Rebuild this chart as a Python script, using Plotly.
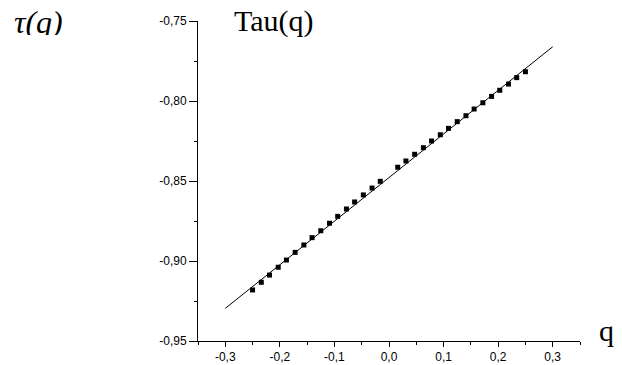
import plotly.graph_objects as go

# ---- data ----
q_vals = [-0.25, -0.234, -0.219, -0.203, -0.188, -0.172, -0.156, -0.141,
          -0.125, -0.109, -0.094, -0.078, -0.063, -0.047, -0.031, -0.016,
          0.0,
          0.016, 0.031, 0.047, 0.063, 0.078, 0.094, 0.109, 0.125,
          0.141, 0.156, 0.172, 0.188, 0.203, 0.219, 0.234, 0.25]
tau_vals = [-0.9181, -0.9133, -0.9088, -0.9039, -0.8994, -0.8946, -0.8900, -0.8854,
            -0.8811, -0.8764, -0.8721, -0.8675, -0.8631, -0.8587, -0.8544, -0.8502,
            None,
            -0.8414, -0.8375, -0.8333, -0.8292, -0.8250, -0.8211, -0.8171, -0.8129,
            -0.8092, -0.8050, -0.8011, -0.7971, -0.7933, -0.7894, -0.7854, -0.7817]
fit_q = [-0.3, 0.3]
fit_tau = [-0.9296, -0.7661]

x_tickvals = [-0.3, -0.2, -0.1, 0.0, 0.1, 0.2, 0.3]
x_ticktext = ["-0,3", "-0,2", "-0,1", "0,0", "0,1", "0,2", "0,3"]
x_minor = [-0.35, -0.25, -0.15, -0.05, 0.05, 0.15, 0.25, 0.35]
y_tickvals = [-0.95, -0.90, -0.85, -0.80, -0.75]
y_ticktext = ["-0,95", "-0,90", "-0,85", "-0,80", "-0,75"]
y_minor = [-0.925, -0.875, -0.825, -0.775]

fig = go.Figure()
fig.add_trace(go.Scatter(x=fit_q, y=fit_tau, mode="lines",
                         line=dict(color="black", width=1), showlegend=False))
fig.add_trace(go.Scatter(x=q_vals, y=tau_vals, mode="markers",
                         marker=dict(symbol="square", size=5, color="black"),
                         showlegend=False))

tick_font = dict(family="Liberation Sans, Arial, sans-serif", size=12, color="black")
fig.update_xaxes(range=[-0.35, 0.35], showline=True, linecolor="black", linewidth=1,
                 showgrid=False, zeroline=False, ticks="outside", ticklen=5,
                 tickcolor="black", tickmode="array", tickvals=x_tickvals,
                 ticktext=x_ticktext, tickfont=tick_font, automargin=False,
                 minor=dict(tickvals=x_minor, ticks="outside", ticklen=3,
                            tickcolor="black", showgrid=False))
fig.update_yaxes(range=[-0.95, -0.75], showline=True, linecolor="black", linewidth=1,
                 showgrid=False, zeroline=False, ticks="outside", ticklen=8,
                 tickcolor="black", tickmode="array", tickvals=y_tickvals,
                 ticktext=y_ticktext, tickfont=tick_font, automargin=False,
                 minor=dict(tickvals=y_minor, ticks="outside", ticklen=3,
                            tickcolor="black", showgrid=False))

serif = "Liberation Serif, Times New Roman, serif"
fig.add_annotation(text="Tau(q)", xref="paper", yref="paper",
                   x=(232 - 198) / 382, y=(341 - 21) / 320,
                   xanchor="left", yanchor="middle", showarrow=False,
                   font=dict(family=serif, size=30, color="black"))
fig.add_annotation(text="q", xref="paper", yref="paper",
                   x=(606 - 198) / 382, y=(341 - 330) / 320,
                   xanchor="center", yanchor="middle", showarrow=False,
                   font=dict(family=serif, size=30, color="black"))
fig.add_annotation(text="<i>τ(q)</i>", xref="paper", yref="paper",
                   x=(12 - 198) / 382, y=(341 - 2) / 320,
                   xanchor="left", yanchor="top", showarrow=False,
                   height=31, valign="top",
                   font=dict(family=serif, size=32, color="black"))

fig.update_layout(width=622, height=365,
                  margin=dict(l=198, r=42, t=21, b=24, pad=0),
                  paper_bgcolor="white", plot_bgcolor="white")

fig.write_html("out.html", config={"displayModeBar": False},
               post_script="document.body.style.margin='0';document.body.style.overflow='hidden';")
